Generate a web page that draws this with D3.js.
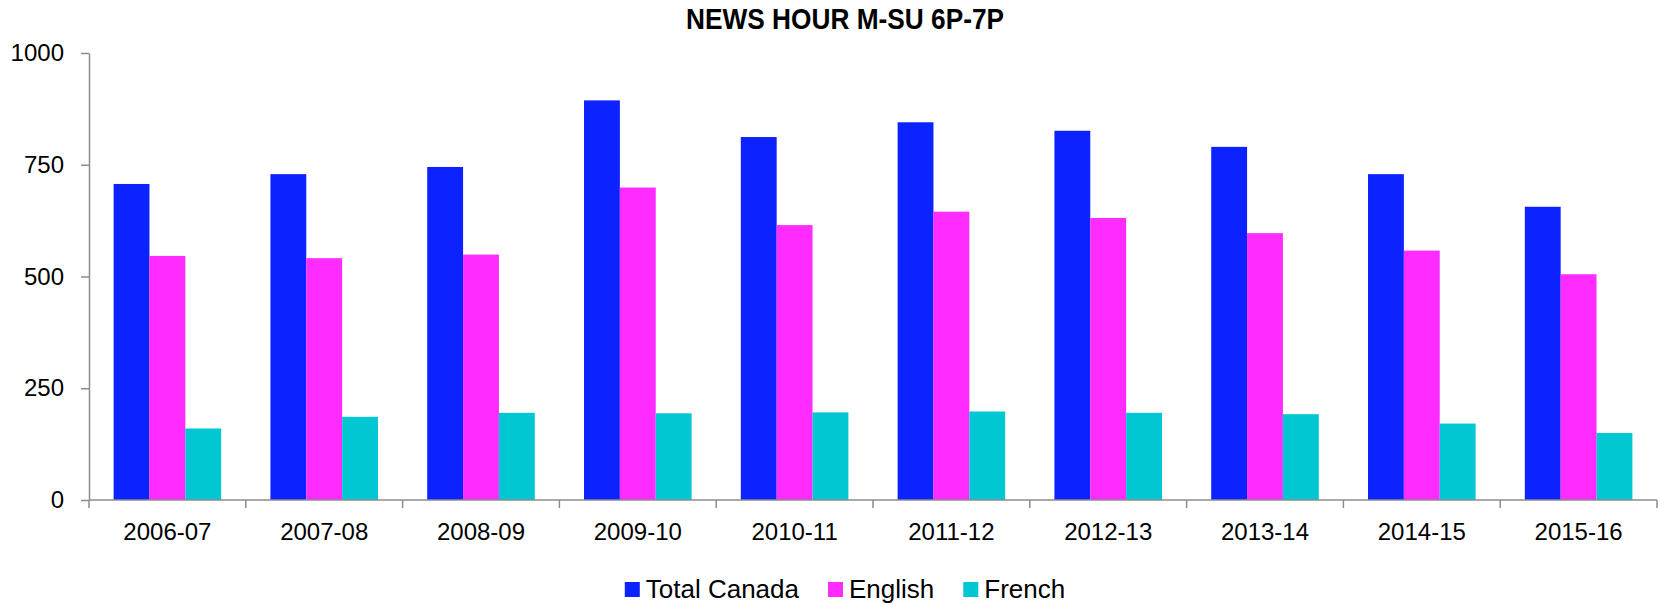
<!DOCTYPE html>
<html>
<head>
<meta charset="utf-8">
<script src="https://cdn.jsdelivr.net/npm/d3@7"></script>
<style>
  body { margin: 0; background: #fff; }
  svg { display: block; }
  .axis text { font-family: "Liberation Sans", Arial, sans-serif; font-size: 24px; fill: #000; }
  .axis path, .axis line { stroke: #8c8c8c; stroke-width: 1.5px; }
</style>
</head>
<body>
<div id="chart"></div>
<script>
var seasons = ["2006-07", "2007-08", "2008-09", "2009-10", "2010-11", "2011-12", "2012-13", "2013-14", "2014-15", "2015-16"];
var series_names = ["Total Canada", "English", "French"];
var total_canada = [707, 729, 745, 894, 812, 845, 826, 790, 729, 656];
var english = [546, 541, 549, 699, 615, 645, 631, 597, 558, 505];
var french = [160, 186, 195, 194, 196, 198, 195, 192, 171, 150];
var y_ticks = [0, 250, 500, 750, 1000];
var colors = ["#0c22ff", "#ff2bff", "#00c7d2"];

var width = 1666, height = 605;
var margin = {top: 53, right: 9, bottom: 105, left: 89};
var center_x = 845;

var svg = d3.select("#chart").append("svg")
	.attr("width", width)
	.attr("height", height);

var values = [total_canada, english, french];
var rows = seasons.map(function(s, i) {
	return {season: s, vals: series_names.map(function(n, j) { return {name: n, value: values[j][i]}; })};
});

var x0 = d3.scaleBand()
	.domain(seasons)
	.range([margin.left, width - margin.right])
	.paddingInner(0.314)
	.paddingOuter(0.157);

var x1 = d3.scaleBand()
	.domain(series_names)
	.range([0, x0.bandwidth()]);

var y = d3.scaleLinear()
	.domain([0, 1000])
	.range([height - margin.bottom, margin.top]);

var color = d3.scaleOrdinal().domain(series_names).range(colors);

// bars
svg.append("g").selectAll("g")
	.data(rows)
	.join("g")
		.attr("transform", function(d) { return "translate(" + x0(d.season) + ",0)"; })
	.selectAll("rect")
	.data(function(d) { return d.vals; })
	.join("rect")
		.attr("x", function(d) { return x1(d.name); })
		.attr("y", function(d) { return y(d.value); })
		.attr("width", x1.bandwidth())
		.attr("height", function(d) { return y(0) - y(d.value); })
		.attr("fill", function(d) { return color(d.name); });

// y axis
var y_axis = svg.append("g")
	.attr("class", "axis")
	.attr("transform", "translate(" + margin.left + ",0)")
	.call(d3.axisLeft(y).tickValues(y_ticks).tickFormat(d3.format("d")).tickSize(8).tickSizeOuter(0).tickPadding(17));

// x axis: labels at centres, ticks at category edges
var x_axis = svg.append("g")
	.attr("class", "axis")
	.attr("transform", "translate(0," + y(0) + ")")
	.call(d3.axisBottom(x0).tickSize(0).tickPadding(23));
x_axis.select(".domain").attr("d", "M" + margin.left + ",0H" + (width - margin.right));

var step = x0.step();
var edges = d3.range(seasons.length + 1).map(function(i) { return margin.left + i * step; });
x_axis.selectAll(".edge")
	.data(edges)
	.join("line")
		.attr("class", "edge")
		.attr("x1", function(d) { return d; })
		.attr("x2", function(d) { return d; })
		.attr("y1", 0)
		.attr("y2", 8);

// title
svg.append("text")
	.attr("x", center_x)
	.attr("y", 29)
	.attr("text-anchor", "middle")
	.attr("textLength", 318)
	.attr("lengthAdjust", "spacingAndGlyphs")
	.style("font-family", "'Liberation Sans', Arial, sans-serif")
	.style("font-weight", "bold")
	.style("font-size", "30px")
	.text("NEWS HOUR M-SU 6P-7P");

// legend
var legend = svg.append("g");
var items = legend.selectAll("g")
	.data(series_names)
	.join("g");
items.append("rect")
	.attr("width", 15)
	.attr("height", 15)
	.attr("y", 582)
	.attr("fill", function(d) { return color(d); });
items.append("text")
	.attr("x", 21)
	.attr("y", 598)
	.style("font-family", "'Liberation Sans', Arial, sans-serif")
	.style("font-size", "26px")
	.text(function(d) { return d; });

var offset = 0;
items.each(function() {
	var w = 21 + d3.select(this).select("text").node().getComputedTextLength();
	d3.select(this).attr("transform", "translate(" + offset + ",0)");
	offset += w + 29;
});
var legend_w = offset - 29;
legend.attr("transform", "translate(" + (center_x - legend_w / 2) + ",0)");
</script>
</body>
</html>
